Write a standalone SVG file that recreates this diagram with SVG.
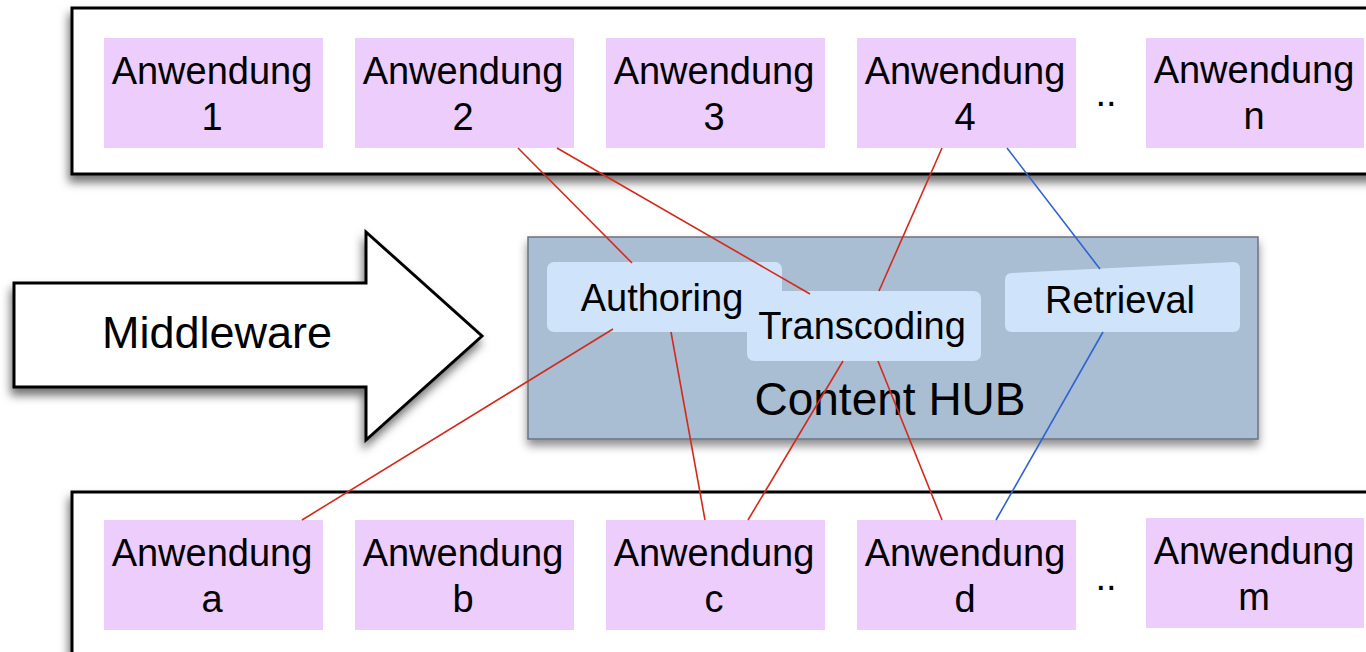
<svg xmlns="http://www.w3.org/2000/svg" width="1366" height="652" viewBox="0 0 1366 652">
<defs>
<filter id="sh" x="-10%" y="-20%" width="130%" height="160%">
<feDropShadow dx="-2" dy="7" stdDeviation="5" flood-color="#000" flood-opacity="0.55"/>
</filter>
<filter id="sh2" x="-10%" y="-20%" width="130%" height="160%">
<feDropShadow dx="0" dy="6" stdDeviation="5" flood-color="#000" flood-opacity="0.45"/>
</filter>
</defs>
<style>
text{font-family:"Liberation Sans",Arial,sans-serif;fill:#000;text-anchor:middle}
.frame{fill:#fff;stroke:#000;stroke-width:3}
.app{fill:#edcdfc}
.app text{font-size:38px}
.inner{fill:#cfe3fb}
.inner text{font-size:38px}
.red{stroke:#d42a1c;stroke-width:1.6;fill:none}
.blue{stroke:#2f63d0;stroke-width:1.6;fill:none}
.dots{font-size:38px}
</style>
<rect width="1366" height="652" fill="#fff"/>

<g id="top-frame">
<rect class="frame" x="72" y="8" width="1310" height="166" filter="url(#sh)"/>
</g>
<g id="bottom-frame">
<rect class="frame" x="72" y="492" width="1310" height="180" filter="url(#sh)"/>
</g>

<g id="app1" class="app"><rect x="104" y="38" width="219" height="110"/><text x="212" y="84">Anwendung</text><text x="212" y="130">1</text></g>
<g id="app2" class="app"><rect x="355" y="38" width="219" height="110"/><text x="463" y="84">Anwendung</text><text x="463" y="130">2</text></g>
<g id="app3" class="app"><rect x="606" y="38" width="219" height="110"/><text x="714" y="84">Anwendung</text><text x="714" y="130">3</text></g>
<g id="app4" class="app"><rect x="857" y="38" width="219" height="110"/><text x="965" y="84">Anwendung</text><text x="965" y="130">4</text></g>
<text class="dots" x="1106" y="106">..</text>
<g id="appn" class="app"><rect x="1146" y="38" width="218" height="110"/><text x="1254" y="83">Anwendung</text><text x="1254" y="129">n</text></g>

<g id="appa" class="app"><rect x="104" y="520" width="219" height="110"/><text x="212" y="566">Anwendung</text><text x="212" y="612">a</text></g>
<g id="appb" class="app"><rect x="355" y="520" width="219" height="110"/><text x="463" y="566">Anwendung</text><text x="463" y="612">b</text></g>
<g id="appc" class="app"><rect x="606" y="520" width="219" height="110"/><text x="714" y="566">Anwendung</text><text x="714" y="612">c</text></g>
<g id="appd" class="app"><rect x="857" y="520" width="219" height="110"/><text x="965" y="566">Anwendung</text><text x="965" y="612">d</text></g>
<text class="dots" x="1106" y="590">..</text>
<g id="appm" class="app"><rect x="1146" y="518" width="218" height="110"/><text x="1254" y="564">Anwendung</text><text x="1254" y="610">m</text></g>

<g id="middleware">
<polygon points="14,283 366,283 366,232 482,336 366,440 366,387 14,387" fill="#fff" stroke="#000" stroke-width="3" stroke-linejoin="miter" filter="url(#sh)"/>
<text x="217" y="348" style="font-size:45px">Middleware</text>
</g>

<g id="content-hub">
<rect x="528" y="237" width="730" height="202" fill="#a9bdd3" stroke="#6b7280" stroke-width="1.5" filter="url(#sh2)"/>
<text x="890" y="415" style="font-size:46px">Content HUB</text>
</g>

<g id="authoring" class="inner">
<rect x="547" y="262" width="235" height="70" rx="7"/>
<text x="662" y="311">Authoring</text>
</g>
<g id="transcoding" class="inner">
<rect x="747" y="291" width="234" height="70" rx="7"/>
<text x="862" y="339">Transcoding</text>
</g>
<g id="retrieval" class="inner">
<path d="M1012,273 L1233,262 Q1240,262 1240,269 L1240,325 Q1240,332 1233,332 L1012,332 Q1005,332 1005,325 L1005,280 Q1005,273 1012,273 Z"/>
<text x="1120" y="313">Retrieval</text>
</g>

<g id="connectors">
<line class="red" x1="518" y1="148" x2="632" y2="263"/>
<line class="red" x1="557" y1="148" x2="810" y2="294"/>
<line class="red" x1="942" y1="148" x2="879" y2="291"/>
<line class="blue" x1="1007" y1="148" x2="1100" y2="269"/>
<line class="red" x1="613" y1="329" x2="302" y2="520"/>
<line class="red" x1="671" y1="332" x2="705" y2="520"/>
<line class="red" x1="843" y1="361" x2="748" y2="520"/>
<line class="red" x1="878" y1="361" x2="942" y2="520"/>
<line class="blue" x1="1103" y1="332" x2="996" y2="520"/>
</g>
</svg>
